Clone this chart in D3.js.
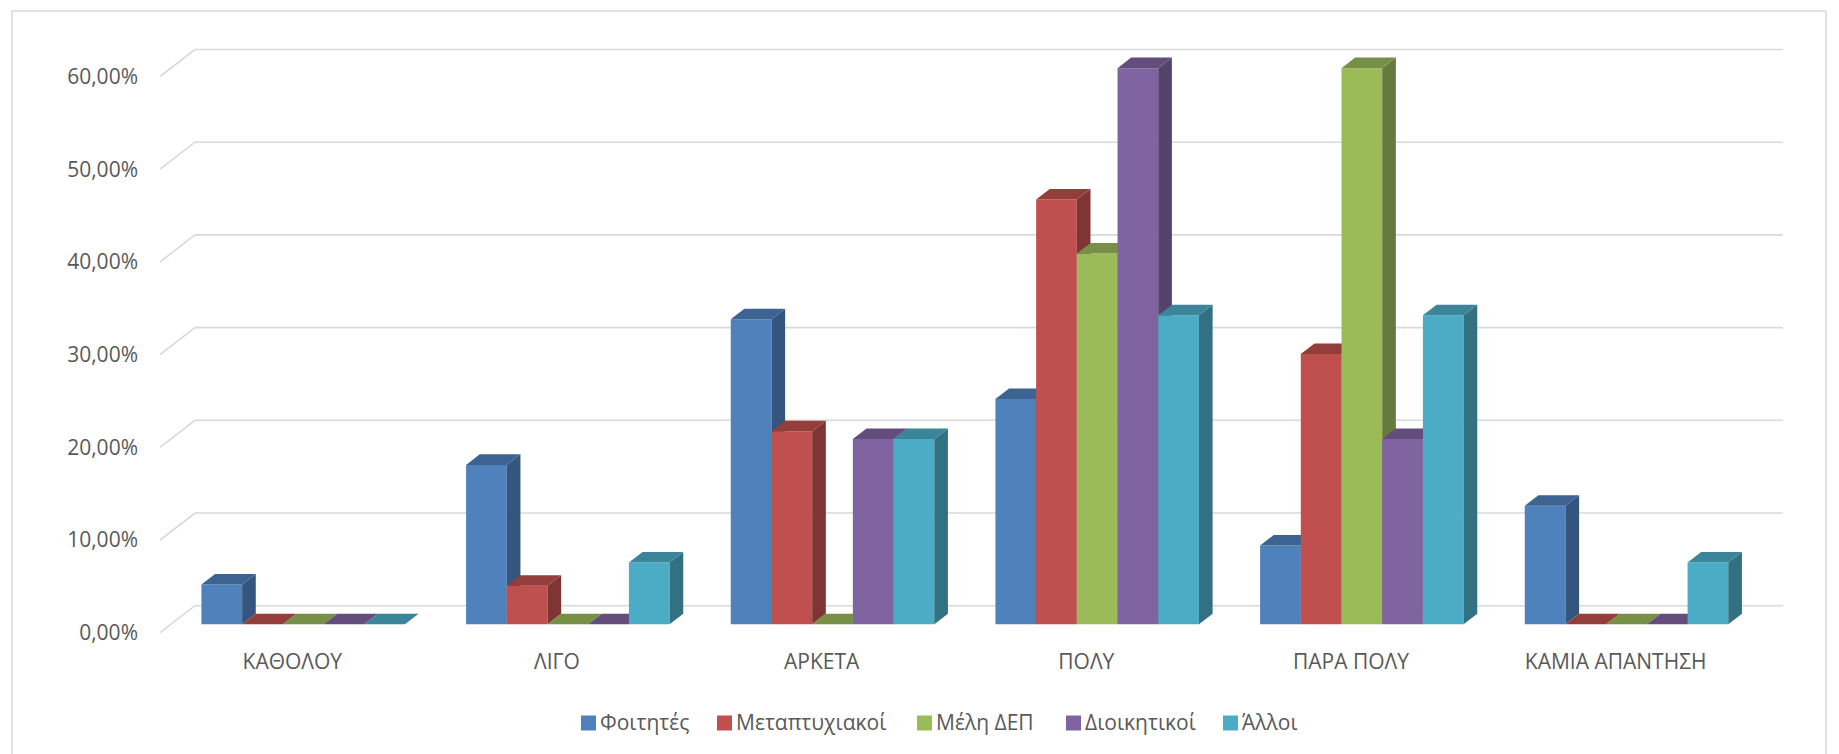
<!DOCTYPE html>
<html>
<head>
<meta charset="utf-8">
<script src="https://cdn.jsdelivr.net/npm/d3@7"></script>
<style>
  html, body { margin: 0; padding: 0; background: #fff; }
  svg { display: block; font-family: "Open Sans", "Noto Sans", sans-serif; }
</style>
</head>
<body>
<svg id="chart" width="1839" height="754"></svg>
<script>
// data
const categories = ["ΚΑΘΟΛΟΥ", "ΛΙΓΟ", "ΑΡΚΕΤΑ", "ΠΟΛΥ", "ΠΑΡΑ ΠΟΛΥ", "ΚΑΜΙΑ ΑΠΑΝΤΗΣΗ"];
const seriesNames = ["Φοιτητές", "Μεταπτυχιακοί", "Μέλη ΔΕΠ", "Διοικητικοί", "Άλλοι"];
const foitites       = [0.043, 0.172, 0.329, 0.243, 0.085, 0.128];
const metaptyxiakoi  = [0, 0.0417, 0.2083, 0.4583, 0.2917, 0];
const melhDep        = [0, 0, 0, 0.40, 0.60, 0];
const dioikitikoi    = [0, 0, 0.20, 0.60, 0.20, 0];
const alloi          = [0, 0.0667, 0.20, 0.3333, 0.3333, 0.0667];
const yTicks = [0, 0.1, 0.2, 0.3, 0.4, 0.5, 0.6];
const colors = ["#4F81BD", "#C0504D", "#9BBB59", "#8064A2", "#4BACC6"];

const seriesValues = [foitites, metaptyxiakoi, melhDep, dioikitikoi, alloi];

const svg = d3.select("#chart");

// chart frame
svg.append("rect")
  .attr("x", 12).attr("y", 11)
  .attr("width", 1814).attr("height", 760)
  .attr("fill", "none")
  .attr("stroke", "#d9d9d9")
  .attr("stroke-width", 1.5);

// 3d layout: front plane of the floor and depth vector
const front = {x: 160, width: 1588};
const depth = {dx: 35, dy: -27};
const z0 = 0.31, z1 = 0.70;   // bar front / back as fraction of depth

const y = d3.scaleLinear()
  .domain([0, 0.6])
  .range([632.7, 632.7 - 0.6 * 927]);

const x = d3.scaleBand()
  .domain(categories)
  .range([front.x, front.x + front.width])
  .paddingInner(0.231)
  .paddingOuter(0.1155);

const xs = d3.scaleBand()
  .domain(seriesNames)
  .range([0, x.bandwidth()]);

const grLocale = d3.formatLocale({decimal: ",", thousands: ".", grouping: [3], currency: ["", "€"]});
const pct = grLocale.format(".2%");

// gridlines: left wall diagonal + back plane line
const grid = svg.append("g").attr("class", "grid");
yTicks.forEach(t => {
  const yy = y(t);
  grid.append("path")
    .attr("d", `M${front.x},${yy} L${front.x + depth.dx},${yy + depth.dy} L${front.x + depth.dx + front.width},${yy + depth.dy}`)
    .attr("fill", "none")
    .attr("stroke", "#d9d9d9")
    .attr("stroke-width", 1.6);
});

// y labels
svg.append("g")
  .selectAll("text")
  .data(yTicks)
  .join("text")
  .attr("x", front.x - 22)
  .attr("y", d => y(d))
  .attr("dy", "0.35em")
  .attr("text-anchor", "end")
  .attr("font-size", 21)
  .attr("fill", "#595959")
  .text(d => pct(d));

// bars
const bx = z0 * depth.dx, by = z0 * depth.dy;
const sdx = (z1 - z0) * depth.dx, sdy = (z1 - z0) * depth.dy;
const bars = svg.append("g");

categories.forEach((cat, ci) => {
  seriesNames.forEach((s, si) => {
    const v = seriesValues[si][ci];
    const left = x(cat) + xs(s) + bx;
    const right = left + xs.bandwidth();
    const bottom = y(0) + by;
    const top = y(v) + by;
    const base = d3.color(colors[si]);
    const g = bars.append("g");
    if (v > 0) {
      g.append("path")
        .attr("d", `M${left},${bottom} L${right},${bottom} L${right},${top} L${left},${top} Z`)
        .attr("fill", base.formatHex());
      g.append("path")
        .attr("d", `M${right},${bottom} L${right + sdx},${bottom + sdy} L${right + sdx},${top + sdy} L${right},${top} Z`)
        .attr("fill", base.darker(1.17).formatHex());
    }
    g.append("path")
      .attr("d", `M${left},${top} L${right},${top} L${right + sdx},${top + sdy} L${left + sdx},${top + sdy} Z`)
      .attr("fill", base.darker(0.73).formatHex());
  });
});

// category labels
svg.append("g")
  .selectAll("text")
  .data(categories)
  .join("text")
  .attr("x", d => front.x + (categories.indexOf(d) + 0.5) * x.step())
  .attr("y", 662)
  .attr("dy", "0.35em")
  .attr("text-anchor", "middle")
  .attr("font-size", 21)
  .attr("fill", "#595959")
  .text(d => d);

// legend
const legendX = [581, 717, 917, 1066, 1223];
const legend = svg.append("g").attr("transform", "translate(0,723)");
seriesNames.forEach((s, i) => {
  legend.append("rect")
    .attr("x", legendX[i]).attr("y", -7.5)
    .attr("width", 15).attr("height", 15)
    .attr("fill", colors[i]);
  legend.append("text")
    .attr("x", legendX[i] + 19)
    .attr("y", 0)
    .attr("dy", "0.35em")
    .attr("font-size", 21)
    .attr("fill", "#595959")
    .text(s);
});
</script>
</body>
</html>
